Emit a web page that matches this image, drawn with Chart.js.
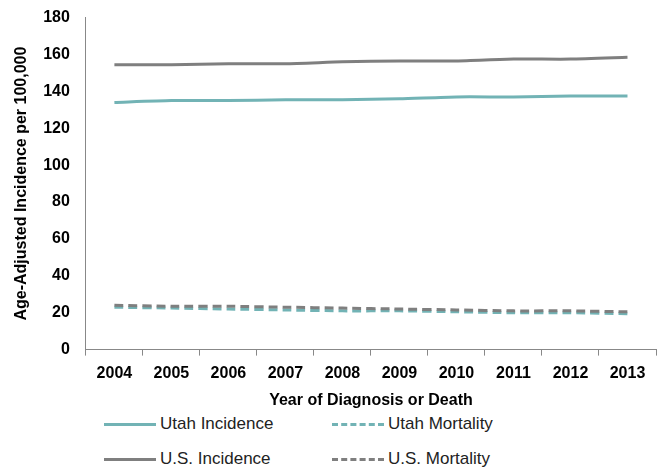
<!DOCTYPE html>
<html><head><meta charset="utf-8">
<script src="https://cdn.jsdelivr.net/npm/chart.js@4"></script>
<style>
body{margin:0;background:#fff;font-family:"Liberation Sans",Arial,sans-serif;}
#wrap{position:absolute;left:0;top:0;width:668px;height:410px;}
.lg{position:absolute;font-size:17px;color:#222;display:flex;align-items:center;}
.sw{width:52px;height:0;border-top:3px solid;margin-right:4px;}
</style></head><body>
<div id="wrap"><canvas id="c"></canvas></div>
<div class="lg" style="left:104px;top:414px"><span class="sw" style="border-color:#72b3b5"></span>Utah Incidence</div>
<div class="lg" style="left:332px;top:414px"><span class="sw" style="border-color:#72b3b5;border-top-style:dashed"></span>Utah Mortality</div>
<div class="lg" style="left:104px;top:449px"><span class="sw" style="border-color:#7f7f7f"></span>U.S. Incidence</div>
<div class="lg" style="left:332px;top:449px"><span class="sw" style="border-color:#7f7f7f;border-top-style:dashed"></span>U.S. Mortality</div>
<script>
const years = ['2004','2005','2006','2007','2008','2009','2010','2011','2012','2013'];
const utahIncidence = [134, 135, 135, 135.5, 135.5, 136, 137, 137, 137.5, 137.5];
const utahMortality = [23, 22.5, 22, 21.5, 21, 21, 20.5, 20, 20, 19.5];
const usIncidence = [154.5, 154.5, 155, 155, 156, 156.5, 156.5, 157.5, 157.5, 158.5];
const usMortality = [24, 23.5, 23.5, 23, 22.5, 22, 21.5, 21, 21, 20.5];

const teal = '#72b3b5', grey = '#7f7f7f';
const ds = (data, color, dash) => ({
  data, borderColor: color, borderWidth: 3, pointRadius: 0, tension: 0.2,
  borderDash: dash ? [9, 5] : [], fill: false,
});
const font = { family: '"Liberation Sans", Arial, sans-serif', size: 16, weight: 'bold' };

new Chart(document.getElementById('c'), {
  type: 'line',
  data: {
    labels: years,
    datasets: [
      ds(usIncidence, grey, false),
      ds(utahIncidence, teal, false),
      ds(usMortality, grey, true),
      ds(utahMortality, teal, true),
    ],
  },
  options: {
    responsive: true, maintainAspectRatio: false, animation: false,
    layout: { padding: { top: 8, right: 12, left: 8 } },
    plugins: { legend: { display: false }, tooltip: { enabled: false } },
    scales: {
      x: {
        offset: true,
        grid: { display: true, drawOnChartArea: false, offset: true, color: '#888', tickLength: 6 },
        border: { color: '#888' },
        ticks: { font, color: '#000', padding: 8 },
        title: { display: true, text: 'Year of Diagnosis or Death', font, color: '#000', padding: 0 },
      },
      y: {
        min: 0, max: 180,
        ticks: { stepSize: 20, font, color: '#000', padding: 8 },
        grid: { display: false },
        border: { color: '#888' },
        title: { display: true, text: 'Age-Adjusted Incidence per 100,000', font, color: '#000', padding: 4 },
      },
    },
  },
});
</script>
</body></html>
